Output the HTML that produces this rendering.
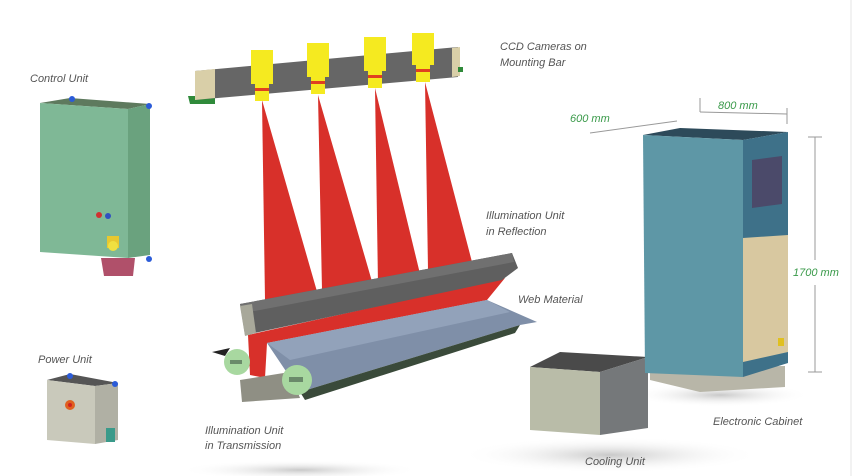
<!DOCTYPE html>
<html><head><style>
html,body{margin:0;padding:0;background:#fff;}
svg{display:block}
text{font-family:"Liberation Sans",sans-serif;font-style:italic;font-size:11px;fill:#555;}
.g{fill:#3a9a4a;}
</style></head><body>
<svg width="862" height="476" viewBox="0 0 862 476">
<defs>
<radialGradient id="sh"><stop offset="0" stop-color="#bbb" stop-opacity=".8"/><stop offset="1" stop-color="#fff" stop-opacity="0"/></radialGradient>
</defs>
<rect width="862" height="476" fill="#fff"/>
<line x1="851" y1="0" x2="851" y2="476" stroke="#e6e6e6"/>
<ellipse cx="610" cy="455" rx="150" ry="18" fill="url(#sh)"/>
<ellipse cx="300" cy="470" rx="120" ry="10" fill="url(#sh)"/>
<ellipse cx="720" cy="395" rx="90" ry="12" fill="url(#sh)"/>

<!-- Control unit -->
<text x="30" y="82">Control Unit</text>
<polygon points="40,103 70,98 150,104 128,109" fill="#5e7a5e"/>
<polygon points="40,103 128,109 128,258 40,252" fill="#7fb896"/>
<polygon points="128,109 150,104 150,255 128,258" fill="#6aa27e"/>
<polygon points="101,258 135,258 133,276 104,276" fill="#b0506a"/>
<circle cx="72" cy="99" r="3" fill="#2b5bd8"/><circle cx="149" cy="106" r="3" fill="#2b5bd8"/><circle cx="149" cy="259" r="3" fill="#2b5bd8"/>
<circle cx="99" cy="215" r="3" fill="#d03030"/><circle cx="108" cy="216" r="3" fill="#3050c0"/>
<rect x="107" y="236" width="12" height="12" fill="#e8c830"/><circle cx="113" cy="246" r="5" fill="#f0e040"/>

<!-- Power unit -->
<text x="38" y="363">Power Unit</text>
<polygon points="47,380 70,374 118,383 95,386" fill="#555"/>
<polygon points="47,380 95,386 95,444 47,440" fill="#c9c9bb"/>
<polygon points="95,386 118,383 118,440 95,444" fill="#b0b0a4"/>
<circle cx="70" cy="405" r="5" fill="#e06020"/><circle cx="70" cy="405" r="2" fill="#d02020"/>
<rect x="106" y="428" width="9" height="14" fill="#3a9a8a"/>
<circle cx="70" cy="376" r="3" fill="#2b5bd8"/><circle cx="115" cy="384" r="3" fill="#2b5bd8"/>

<!-- beams -->
<polygon points="262,100 265,300 318,295" fill="#d8302a"/>
<polygon points="318,95 322,290 373,285" fill="#d8302a"/>
<polygon points="375,88 378,285 421,278" fill="#d8302a"/>
<polygon points="425,82 428,270 472,262" fill="#d8302a"/>

<!-- camera bar -->
<polygon points="188,96 215,96 215,104 190,104" fill="#2f8a3a"/>
<polygon points="195,71 458,47 458,77 195,100" fill="#666"/>
<polygon points="195,71 215,69 215,98 195,100" fill="#d9cfa8"/>
<polygon points="452,48 460,47 460,76 452,77" fill="#d9cfa8"/>
<rect x="458" y="67" width="5" height="5" fill="#2f8a3a"/>
<g fill="#f5ea20">
<rect x="251" y="50" width="22" height="34"/><rect x="255" y="84" width="14" height="17"/>
<rect x="307" y="43" width="22" height="34"/><rect x="311" y="77" width="14" height="17"/>
<rect x="364" y="37" width="22" height="34"/><rect x="368" y="71" width="14" height="17"/>
<rect x="412" y="33" width="22" height="32"/><rect x="416" y="65" width="14" height="17"/>
</g>
<g fill="#e04020"><rect x="255" y="88" width="14" height="3"/><rect x="311" y="81" width="14" height="3"/><rect x="368" y="75" width="14" height="3"/><rect x="416" y="69" width="14" height="3"/></g>
<text x="500" y="50">CCD Cameras on</text>
<text x="500" y="66">Mounting Bar</text>

<!-- rollers -->
<polygon points="248,335 505,278 487,300 267,343 265,378 250,375" fill="#d8302a"/>
<polygon points="240,304 512,253 518,268 502,280 245,335" fill="#5f5f5f"/>
<polygon points="240,304 512,253 514,262 244,313" fill="#707070"/>
<polygon points="240,306 252,304 256,333 245,336" fill="#a8a89a"/>
<polygon points="240,380 290,372 300,398 242,402" fill="#8f8f84"/>
<polygon points="267,343 487,300 537,322 520,325 300,392" fill="#7f8fa8"/>
<polygon points="267,343 487,300 510,312 290,360" fill="#92a2ba"/>
<polygon points="300,392 520,325 515,333 305,400" fill="#3a4a3a"/>
<polygon points="212,352 230,348 225,356" fill="#222"/>
<circle cx="237" cy="362" r="13" fill="#a8d8a0"/><rect x="230" y="360" width="12" height="4" fill="#6a8a6a"/>
<circle cx="297" cy="380" r="15" fill="#a8d8a0"/><rect x="289" y="377" width="14" height="5" fill="#6a8a6a"/>
<text x="486" y="219">Illumination Unit</text>
<text x="486" y="235">in Reflection</text>
<text x="518" y="303">Web Material</text>
<text x="205" y="434">Illumination Unit</text>
<text x="205" y="449">in Transmission</text>

<!-- cooling unit -->
<polygon points="530,367 560,352 648,357 600,372" fill="#4a4a4a"/>
<polygon points="530,367 600,372 600,435 530,430" fill="#b9bca8"/>
<polygon points="600,372 648,357 648,428 600,435" fill="#75787a"/>
<text x="585" y="465">Cooling Unit</text>

<!-- cabinet -->
<polygon points="650,368 785,366 785,387 700,392 650,380" fill="#b8b6a8"/>
<polygon points="643,135 680,128 788,132 743,140" fill="#2d4a5a"/>
<polygon points="643,135 743,140 743,377 645,373" fill="#5e97a6"/>
<polygon points="743,140 788,132 788,363 743,377" fill="#3e7189"/>
<polygon points="743,238 788,235 788,352 743,362" fill="#d8c8a0"/>
<polygon points="752,160 782,156 782,204 752,208" fill="#4b4a6a"/>
<rect x="778" y="338" width="6" height="8" fill="#e0c020"/>
<text x="713" y="425">Electronic Cabinet</text>
<line x1="700" y1="98" x2="700" y2="112" stroke="#999"/><line x1="787" y1="108" x2="787" y2="124" stroke="#999"/>
<line x1="700" y1="112" x2="787" y2="114" stroke="#999"/>
<text class="g" x="718" y="109">800 mm</text>
<line x1="590" y1="133" x2="677" y2="121" stroke="#999"/>
<text class="g" x="570" y="122">600 mm</text>
<line x1="815" y1="137" x2="815" y2="260" stroke="#999"/><line x1="815" y1="285" x2="815" y2="372" stroke="#999"/>
<line x1="808" y1="137" x2="822" y2="137" stroke="#999"/><line x1="808" y1="372" x2="822" y2="372" stroke="#999"/>
<text class="g" x="793" y="276">1700 mm</text>
</svg>
</body></html>
